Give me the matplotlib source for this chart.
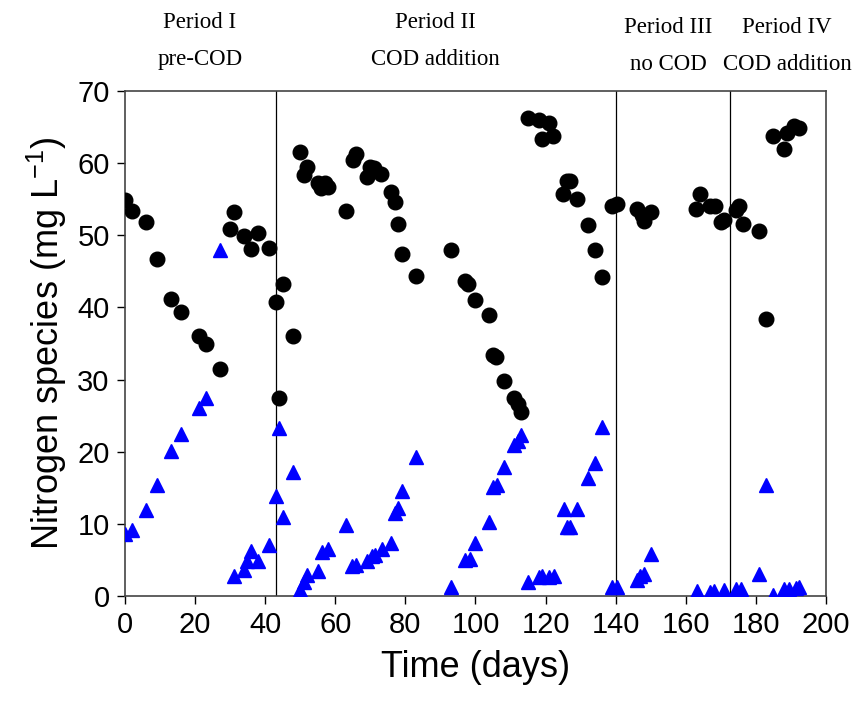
import matplotlib
matplotlib.use("Agg")
from matplotlib import pyplot as plt

plt.rcParams["mathtext.fontset"] = "custom"
plt.rcParams["mathtext.rm"] = "Liberation Sans"
plt.rcParams["mathtext.it"] = "Liberation Sans"
plt.rcParams["mathtext.default"] = "regular"

# circles (black) - day, concentration
circle_days = [0, 2, 6, 9, 13, 16, 21, 23, 27, 31, 30, 34, 38, 36, 41, 45, 43, 48, 44,
               50, 52, 51, 55, 57, 58, 56, 63, 66, 65, 70, 71, 73, 69, 76, 77, 78, 79, 83,
               93, 97, 98, 100, 104, 105, 106, 108, 111, 112, 113,
               115, 118, 121, 119, 122, 126, 127, 125, 129, 132, 134, 136, 139, 140.5,
               146, 147.5, 148, 150, 164, 163, 167, 168.4, 170, 171, 174.3, 175.2, 176.2,
               181, 183, 185, 188, 189, 191, 192.4]
circle_vals = [54.9, 53.4, 51.8, 46.7, 41.2, 39.3, 36.1, 35.0, 31.4, 53.2, 50.9, 49.9, 50.3, 48.1, 48.3, 43.2, 40.7, 36.0, 27.4,
               61.5, 59.4, 58.3, 57.2, 57.3, 56.7, 56.6, 53.3, 61.3, 60.4, 59.4, 59.3, 58.5, 58.1, 56.0, 54.6, 51.5, 47.4, 44.3,
               47.9, 43.7, 43.2, 41.0, 39.0, 33.4, 33.1, 29.8, 27.4, 26.6, 25.5,
               66.3, 66.0, 65.5, 63.3, 63.7, 57.5, 57.5, 55.7, 55.0, 51.4, 48.0, 44.2, 54.1, 54.3,
               53.6, 52.8, 52.0, 53.2, 55.7, 53.7, 54.0, 54.1, 51.9, 52.1, 53.5, 54.1, 51.5,
               50.6, 38.4, 63.7, 61.9, 64.2, 65.2, 64.9]

# triangles (blue)
tri_days = [0, 2, 6, 9, 13, 16, 21, 23, 27, 31, 34, 36, 34.8, 38, 41, 44, 43, 45, 48,
            49.8, 51, 52, 55.2, 56.2, 58, 63, 64.8, 66, 69, 70.5, 71.4, 73.3, 76, 77, 78, 79, 83,
            93, 97, 98.3, 100, 104, 105, 106.2, 108, 111, 112, 113,
            115, 118, 119, 121, 122.4, 125.2, 129, 126, 127, 132, 134, 136, 139, 140.5,
            146, 147, 148, 150, 163.3, 167, 168, 170.8, 174.3, 175.7,
            181, 183, 185, 188, 189.5, 191.4, 192.4]
tri_vals = [8.6, 9.1, 11.9, 15.4, 20.1, 22.4, 26.1, 27.5, 47.9, 2.8, 3.6, 6.2, 4.8, 4.8, 7.1, 23.3, 13.9, 11.0, 17.2,
            0.8, 2.0, 2.9, 3.5, 6.1, 6.5, 9.8, 4.1, 4.3, 4.8, 5.5, 5.7, 6.5, 7.4, 11.5, 12.2, 14.6, 19.3,
            1.3, 5.0, 5.1, 7.3, 10.3, 15.1, 15.4, 17.9, 20.9, 21.5, 22.3,
            2.0, 2.6, 2.8, 2.6, 2.8, 12.1, 12.1, 9.6, 9.6, 16.4, 18.4, 23.5, 1.3, 1.3,
            2.2, 2.8, 3.0, 5.8, 0.7, 0.5, 0.7, 0.8, 1.0, 1.0,
            3.0, 15.4, 0.1, 1.0, 1.0, 1.1, 1.2]

period_bounds = [43.1, 140.1, 172.6]
period_labels = ["Period I\npre-COD", "Period II\nCOD addition", "Period III\nno COD", "Period IV\nCOD addition"]
period_label_x = [200, 435, 668, 787]  # pixel centres in the figure
period_label_y = [41, 41, 46, 46]

fig = plt.figure(figsize=(8.55, 7.13), dpi=100)
ax = fig.add_axes([0.1462, 0.164, 0.8198, 0.7084])

ax.plot(circle_days, circle_vals, "o", color="black", markersize=10.5, linestyle="none", zorder=3)
ax.plot(tri_days, tri_vals, "^", color="blue", markersize=10, linestyle="none", zorder=3)

for b in period_bounds:
    ax.axvline(b, color="black", linewidth=0.9, zorder=1)

ax.set_xlim(0, 200)
ax.set_ylim(0, 70)
ax.set_xticks(range(0, 201, 20))
ax.set_yticks(range(0, 71, 10))
ax.tick_params(direction="out", length=6, width=1, labelsize=21, pad=5)
for lab in ax.get_xticklabels() + ax.get_yticklabels():
    lab.set_fontfamily("Liberation Sans")
for s in ax.spines.values():
    s.set_color("#444444")
    s.set_linewidth(1.2)

ax.set_xlabel("Time (days)", fontsize=26, family="Liberation Sans", labelpad=8)
ax.set_ylabel("Nitrogen species (mg L$^{-1}$)", fontsize=26, family="Liberation Sans", labelpad=6)

for lbl, x, y in zip(period_labels, period_label_x, period_label_y):
    fig.text(x / 855, 1 - y / 713, lbl, ha="center", va="center", fontsize=16.5,
             family="Liberation Serif", linespacing=2.0)

fig.savefig("out.png", dpi=100)
